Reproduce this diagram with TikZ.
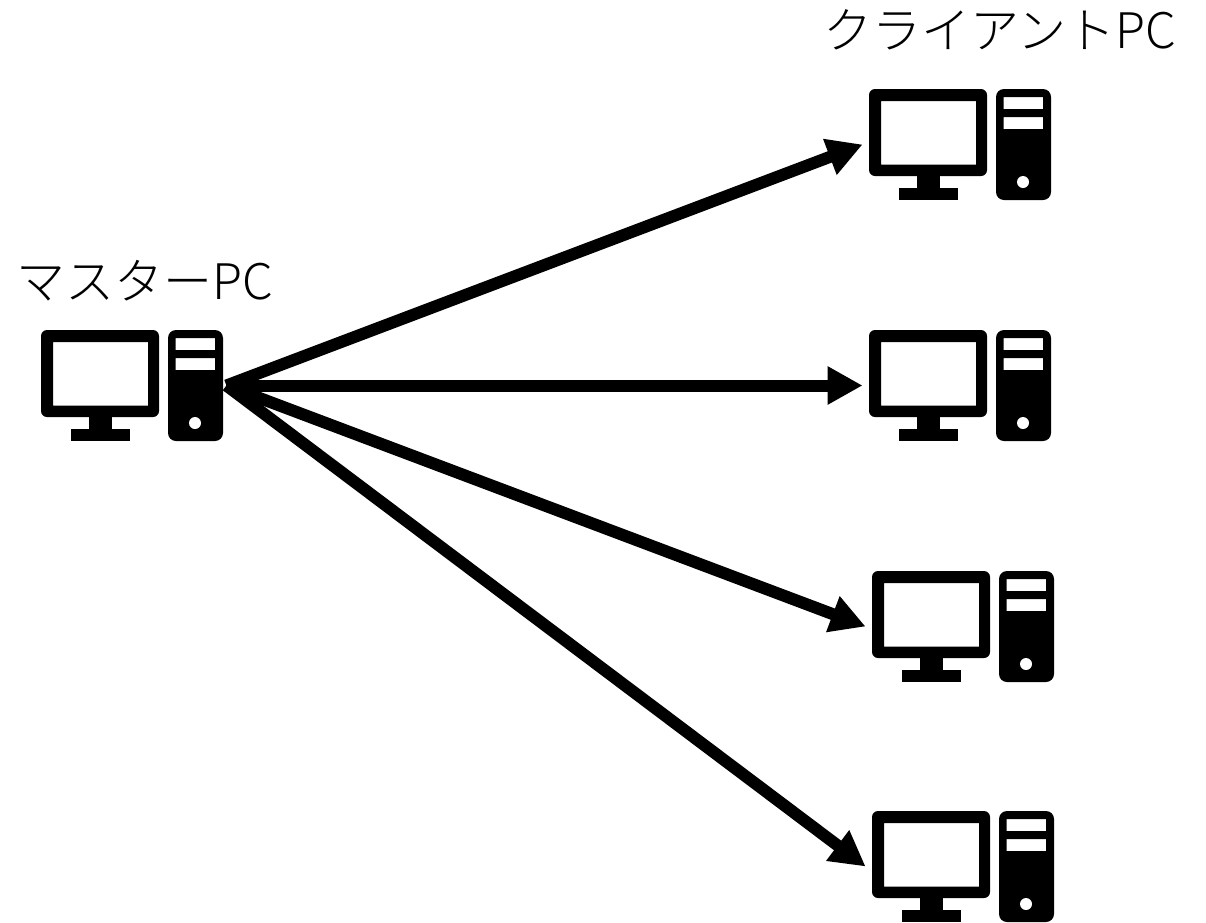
\documentclass[tikz,border=0pt]{standalone}
\usepackage{fontspec}
\setmainfont[UprightFont=* Light]{Noto Sans CJK JP}
\usetikzlibrary{arrows.meta}
\tikzset{
  pcbox/.style={minimum width=94pt,minimum height=55pt,inner sep=0pt},
  pclabel/.style={font=\fontsize{24.5}{28}\selectfont,inner sep=0pt},
  pclink/.style={line width=6pt,-{Triangle[length=17.5pt,width=18pt]}},
  pcicon/.pic={
    \fill[even odd rule,rounded corners=3pt] (-91,-55.5) rectangle (27,31.5)
      [sharp corners] (-79,-43.5) rectangle (16,20);
    \fill (-43,31.5) rectangle (-20,43.5);
    \fill (-61,43.5) rectangle (-2,55.5);
    \fill[even odd rule,rounded corners=4pt] (36,-55.5) rectangle (91,55.5)
      [sharp corners] (43.5,-47.5) rectangle (83,-35.5)
      (43.5,-27.5) rectangle (83,-15.5);
    \fill[white] (63,37.5) circle (3pt);
  }
}
\begin{document}
\begin{tikzpicture}[x=0.5pt,y=-0.5pt]
\useasboundingbox (0,0) rectangle (1206,922);
\node[pcbox] (master) at (132,385.5) {};
\pic at (master) {pcicon};
\foreach \name/\x/\y in {client1/960/144.5,client2/960/385.5,client3/963/626.5,client4/963/866.5}{
  \node[pcbox,minimum width=97pt] (\name) at (\x,\y) {};
  \pic at (\name) {pcicon};
  \draw[pclink] (master.east) -- (\name.west);
}
\node[pclabel] (masterlabel) at (145,281) {マスターPC};
\node[pclabel] (clientlabel) at (1000,30) {クライアントPC};
\end{tikzpicture}
\end{document}
